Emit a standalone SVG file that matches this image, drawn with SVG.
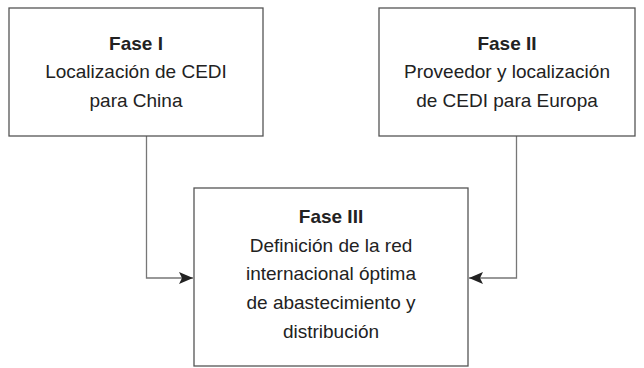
<svg xmlns="http://www.w3.org/2000/svg" width="644" height="368" viewBox="0 0 644 368">
<style>
.box{fill:#fff;stroke:#555;stroke-width:1.3}
.t{font-family:"Liberation Sans",Arial,sans-serif;font-size:19px;fill:#222;text-anchor:middle}
.b{font-weight:bold}
.c{fill:none;stroke:#777;stroke-width:1.3}
</style>
<defs>
<marker id="ah" markerWidth="14" markerHeight="12" refX="14" refY="6" orient="auto" markerUnits="userSpaceOnUse">
<path d="M0,0 L14,6 L0,12 L3,6 Z" fill="#222"/>
</marker>
</defs>
<rect width="644" height="368" fill="#fff"/>
<g id="connectors">
<path class="c" d="M146.5,136 V278 H193" marker-end="url(#ah)"/>
<path class="c" d="M516.5,136 V278 H469" marker-end="url(#ah)"/>
</g>
<g id="fase1">
<rect class="box" x="9" y="8" width="254" height="128"/>
<text class="t b" x="136" y="50">Fase I</text>
<text class="t" x="136" y="78">Localización de CEDI</text>
<text class="t" x="136" y="107">para China</text>
</g>
<g id="fase2">
<rect class="box" x="379" y="8" width="256" height="128"/>
<text class="t b" x="507" y="50">Fase II</text>
<text class="t" x="507" y="78">Proveedor y localización</text>
<text class="t" x="507" y="107">de CEDI para Europa</text>
</g>
<g id="fase3">
<rect class="box" x="194" y="188" width="274" height="178"/>
<text class="t b" x="331" y="223">Fase III</text>
<text class="t" x="331" y="252">Definición de la red</text>
<text class="t" x="331" y="280">internacional óptima</text>
<text class="t" x="331" y="309">de abastecimiento y</text>
<text class="t" x="331" y="338">distribución</text>
</g>
</svg>
